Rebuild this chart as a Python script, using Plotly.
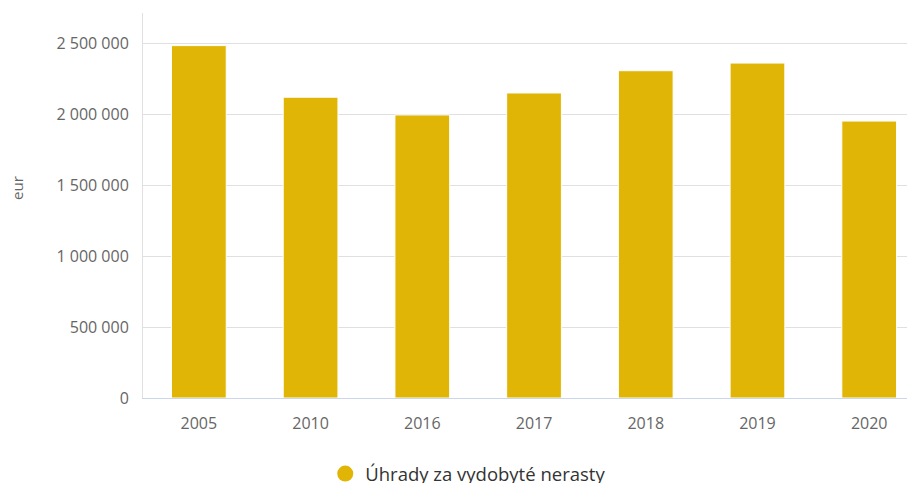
import plotly.graph_objects as go

years = ["2005", "2010", "2016", "2017", "2018", "2019", "2020"]
values = [2485000, 2121000, 1996000, 2151000, 2308000, 2362000, 1953000]
series_name = "Úhrady za vydobyté nerasty"
y_ticks = [0, 500000, 1000000, 1500000, 2000000, 2500000]
y_tick_labels = ["0", "500 000", "1 000 000", "1 500 000", "2 000 000", "2 500 000"]
bar_color = "#e0b506"

fig = go.Figure()
fig.add_trace(go.Bar(
    x=years, y=values, name=series_name, showlegend=False,
    marker=dict(color=bar_color, line=dict(color="#ffffff", width=1)),
    width=0.49, hoverinfo="x+y",
))
fig.add_trace(go.Scatter(
    x=[None], y=[None], mode="markers", name=series_name,
    marker=dict(color=bar_color, size=18, symbol="circle"),
    showlegend=True,
))

fig.update_layout(
    width=915, height=483,
    margin=dict(l=135, r=8, t=5, b=93),
    paper_bgcolor="white", plot_bgcolor="white",
    font=dict(family="Open Sans", color="#666666", size=16),
    xaxis=dict(
        type="category", range=[-0.5, 6.41],
        showline=True, linecolor="#ccd6eb", linewidth=1,
        showgrid=False, ticks="", tickfont=dict(size=16, color="#666666"),
        ticklabelstandoff=11,
        fixedrange=True,
    ),
    yaxis=dict(
        range=[0, 2715000], tickvals=y_ticks, ticktext=y_tick_labels,
        showgrid=True, gridcolor="#e0e0e0", gridwidth=1,
        showline=True, linecolor="#e0e0e0", linewidth=1,
        zeroline=False, ticks="", ticklabelstandoff=10,
        tickfont=dict(size=16, color="#666666"),
        fixedrange=True,
    ),
    legend=dict(
        orientation="h", xref="container", yref="container",
        x=0.503, xanchor="center", y=0.035, yanchor="middle",
        font=dict(size=18.5, color="#333333"),
    ),
    showlegend=True,
    annotations=[dict(
        text="eur", xref="paper", yref="paper", x=-0.1635, y=0.545,
        xanchor="center", yanchor="middle", showarrow=False, textangle=-90,
        font=dict(size=15, color="#666666"),
    )],
)

fig.write_html("out.html")
